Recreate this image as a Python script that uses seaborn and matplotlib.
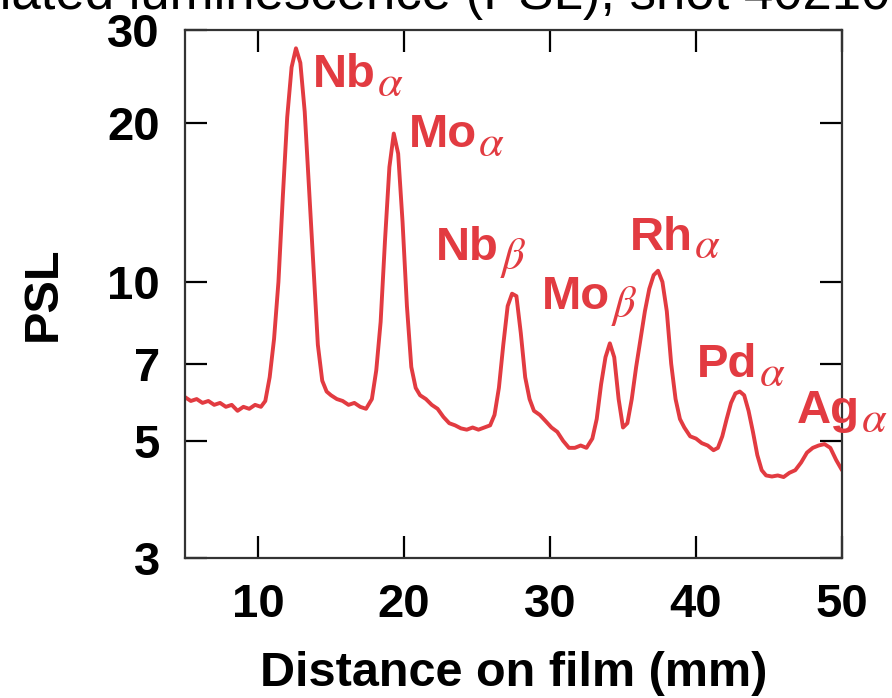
import matplotlib
matplotlib.use("Agg")
import matplotlib.pyplot as plt
import seaborn as sns
import pandas as pd

# ---- data ----
distance_mm = [5.0, 5.4, 5.8, 6.2, 6.6, 7.0, 7.4, 7.8, 8.2, 8.6, 9.0, 9.4, 9.8, 10.2, 10.5,
               10.8, 11.1, 11.4, 11.7, 12.0, 12.3, 12.6, 12.9, 13.2, 13.5, 13.8, 14.1, 14.4,
               14.7, 15.0, 15.4, 15.8, 16.2, 16.6, 17.0, 17.4, 17.8, 18.1, 18.4, 18.7, 19.0,
               19.3, 19.6, 19.9, 20.2, 20.5, 20.8, 21.1, 21.5, 21.9, 22.3, 22.7, 23.1, 23.5,
               23.9, 24.3, 24.7, 25.1, 25.5, 25.9, 26.2, 26.5, 26.8, 27.1, 27.4, 27.7, 28.0,
               28.3, 28.6, 28.9, 29.3, 29.7, 30.1, 30.5, 30.9, 31.3, 31.7, 32.1, 32.5, 32.9,
               33.2, 33.5, 33.8, 34.1, 34.4, 34.7, 35.0, 35.3, 35.6, 35.9, 36.2, 36.5, 36.8,
               37.1, 37.4, 37.7, 38.0, 38.3, 38.6, 38.9, 39.2, 39.6, 40.0, 40.4, 40.8, 41.2,
               41.5, 41.8, 42.1, 42.4, 42.7, 43.0, 43.3, 43.6, 43.9, 44.2, 44.5, 44.8, 45.2,
               45.6, 46.0, 46.4, 46.8, 47.2, 47.6, 48.0, 48.4, 48.8, 49.2, 49.6, 50.0]
psl = [6.05, 5.95, 6.0, 5.9, 5.95, 5.85, 5.9, 5.8, 5.85, 5.7, 5.8, 5.75, 5.85, 5.8, 5.95,
       6.6, 7.8, 10.0, 14.5, 20.5, 25.5, 27.7, 26.0, 21.0, 15.0, 10.8, 7.6, 6.5,
       6.2, 6.1, 6.0, 5.95, 5.85, 5.9, 5.8, 5.75, 6.0, 6.8, 8.4, 12.0, 16.5,
       19.1, 17.5, 13.0, 9.0, 6.9, 6.3, 6.1, 6.0, 5.85, 5.75, 5.55, 5.4, 5.35,
       5.28, 5.25, 5.3, 5.25, 5.3, 5.35, 5.6, 6.3, 7.6, 9.0, 9.5, 9.4, 8.0,
       6.6, 6.0, 5.7, 5.6, 5.45, 5.3, 5.2, 5.0, 4.85, 4.85, 4.9, 4.85, 5.05,
       5.5, 6.4, 7.2, 7.65, 7.2, 6.0, 5.3, 5.4, 6.0, 6.9, 7.8, 8.8, 9.7,
       10.3, 10.5, 10.0, 8.8, 7.0, 6.0, 5.5, 5.3, 5.1, 5.05, 4.95, 4.9, 4.8,
       4.85, 5.1, 5.5, 5.9, 6.15, 6.2, 6.1, 5.7, 5.2, 4.7, 4.4, 4.3, 4.28,
       4.3, 4.27, 4.35, 4.4, 4.55, 4.75, 4.85, 4.9, 4.93, 4.85, 4.6, 4.4]

peak_elements = ["Nb", "Mo", "Nb", "Mo", "Rh", "Pd", "Ag"]
peak_lines = [r"$\alpha$", r"$\alpha$", r"$\beta$", r"$\beta$", r"$\alpha$", r"$\alpha$", r"$\alpha$"]
label_x = [13.77, 20.34, 22.19, 29.45, 35.48, 40.07, 46.92]
label_y = [23.4, 18.0, 11.0, 8.9, 11.5, 6.6, 5.4]

x_ticks = [10, 20, 30, 40, 50]
y_ticks = [3, 5, 7, 10, 20, 30]

title_text = "Photostimulated luminescence (PSL), shot 40210"
x_label = "Distance on film (mm)"
y_label = "PSL"

RED = "#E23B41"

sns.set_style("ticks")
plt.rcParams["font.family"] = ["Liberation Sans", "DejaVu Sans"]
plt.rcParams["mathtext.fontset"] = "stix"
plt.rcParams["text.color"] = "black"
plt.rcParams["axes.labelcolor"] = "black"
plt.rcParams["xtick.color"] = "black"
plt.rcParams["ytick.color"] = "black"

fig = plt.figure(figsize=(8.92, 6.98), dpi=100)
ax = fig.add_axes([185 / 892, 1 - 558 / 698, (842 - 185) / 892, (558 - 30) / 698])

df = pd.DataFrame({"x": distance_mm, "y": psl})
sns.lineplot(data=df, x="x", y="y", ax=ax, color=RED, linewidth=2.8, legend=False)

ax.set_yscale("log")
ax.set_xlim(5, 50)
ax.set_ylim(3, 30)
ax.set_xticks(x_ticks)
ax.set_xticklabels([str(t) for t in x_ticks])
ax.set_yticks(y_ticks)
ax.set_yticklabels([str(t) for t in y_ticks])
ax.minorticks_off()

ax.tick_params(axis="both", which="major", direction="in", length=16, width=1.6,
               top=True, right=True, labelsize=34, color="black", labelcolor="black")
ax.tick_params(axis="x", pad=18)
ax.tick_params(axis="y", pad=18)
for lab in ax.get_xticklabels() + ax.get_yticklabels():
    lab.set_fontweight("bold")

for sp in ax.spines.values():
    sp.set_linewidth(1.6)
    sp.set_color("#333333")
    sp.set_visible(True)

ax.set_xlabel(x_label, fontsize=35, fontweight="bold", labelpad=17, color="black")
ax.set_ylabel(y_label, fontsize=35, fontweight="bold", labelpad=30, color="black")

for el, ln, lx, ly in zip(peak_elements, peak_lines, label_x, label_y):
    base = ax.text(lx, ly, el, color=RED, fontsize=34, fontweight="bold",
                   ha="left", va="baseline", clip_on=False)
    ax.annotate(ln, xy=(1, 0), xycoords=base, xytext=(1, 1), textcoords="offset points",
                color=RED, fontsize=32, ha="left", va="baseline", annotation_clip=False)

fig.text(890 / 892, 1 - 9 / 698, title_text, fontsize=38, ha="right", va="baseline",
         color="black")

fig.savefig("out.png", dpi=100)
